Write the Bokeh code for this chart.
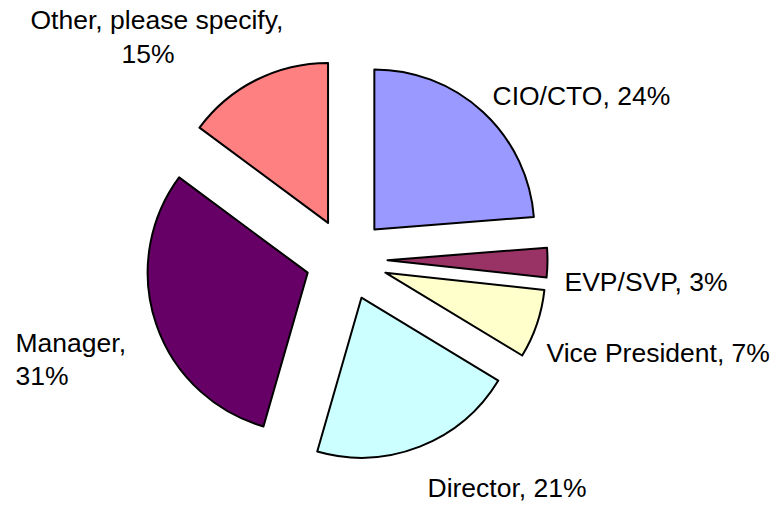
import numpy as np
from bokeh.plotting import figure
from bokeh.models import Range1d, ColumnDataSource
from bokeh.core.properties import value
from bokeh.embed import file_html
from bokeh.resources import INLINE

# ---- data ----
categories = ["CIO/CTO", "EVP/SVP", "Vice President", "Director", "Manager", "Other, please specify"]
percents = [24, 3, 7, 21, 31, 15]
colors = ["#9999FF", "#993366", "#FFFFCC", "#CCFFFF", "#660066", "#FF8080"]

# ---- geometry (styles / positions) ----
CX, CY = 346, -259      # pie centre (data units = pixels, y up negative)
R = 160                 # radius
EXPLODE = 41            # explosion offset

vals = np.array(percents, dtype=float)
frac = vals / vals.sum()
cum = np.concatenate([[0], np.cumsum(frac)])
start = np.pi / 2 - 2 * np.pi * cum[:-1]
end = np.pi / 2 - 2 * np.pi * cum[1:]
mid = (start + end) / 2
xs = CX + EXPLODE * np.cos(mid)
ys = CY + EXPLODE * np.sin(mid)

src = ColumnDataSource(dict(x=xs, y=ys, start=start, end=end, color=colors))

p = figure(width=776, height=505, x_range=Range1d(0, 776), y_range=Range1d(-505, 0),
           output_backend="svg", toolbar_location=None, min_border=0,
           x_axis_type=None, y_axis_type=None)
p.grid.visible = False
p.outline_line_color = None
p.background_fill_color = "white"

p.wedge(x="x", y="y", radius=R, start_angle="start", end_angle="end", direction="clock",
        fill_color="color", line_color="black", line_width=2, line_join="round", source=src)

# ---- labels ----
label_lines = [
    [f"{categories[0]}, {percents[0]}%"],
    [f"{categories[1]}, {percents[1]}%"],
    [f"{categories[2]}, {percents[2]}%"],
    [f"{categories[3]}, {percents[3]}%"],
    [f"{categories[4]},", f"{percents[4]}%"],
    [f"{categories[5]},", f"{percents[5]}%"],
]
# (x, y) anchor per line, left aligned
label_pos = [
    [(492, 95)],
    [(564, 281)],
    [(546, 352)],
    [(427, 487)],
    [(15, 342), (15, 375)],
    [(30, 19), (121, 53)],
]
tx, ty, tt = [], [], []
for lines, poss in zip(label_lines, label_pos):
    for t, (x, y) in zip(lines, poss):
        tx.append(x)
        ty.append(-y)
        tt.append(t)

p.text(x=tx, y=ty, text=tt, text_font=value("Liberation Sans"), text_font_size="26.5px",
       text_color="black", text_align="left", text_baseline="alphabetic")

open("out.html", "w").write(file_html(p, INLINE))
